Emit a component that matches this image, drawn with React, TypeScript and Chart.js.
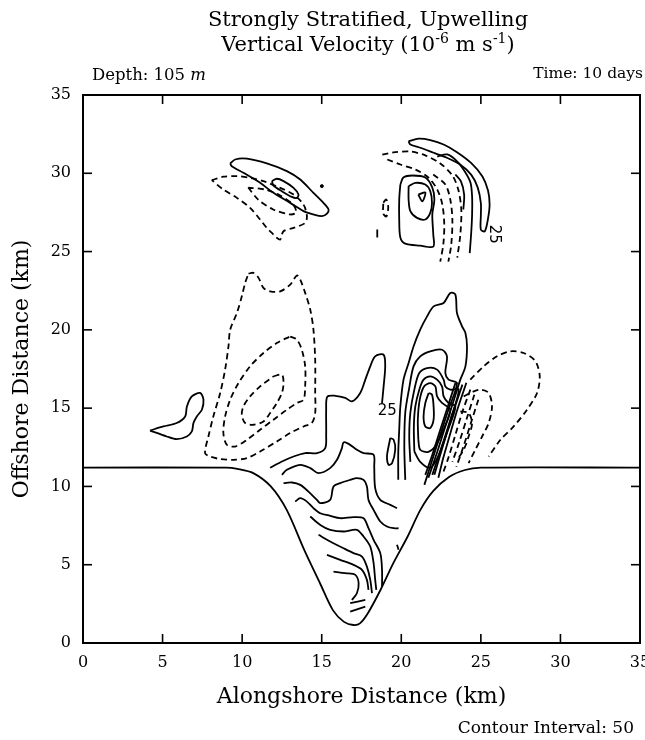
import React, { useEffect, useRef } from 'react';
import { Chart, registerables } from 'chart.js';
Chart.register(...registerables);

type Pt = [number, number];

const xTicks = [0, 5, 10, 15, 20, 25, 30, 35];
const yTicks = [0, 5, 10, 15, 20, 25, 30, 35];

// Shelf / canyon topography line
const shelf: Pt[] = [[0,11.2],[9,11.2],[9.7,11.12],[10.7,10.85],[11.8,10.0],[12.8,8.5],[13.9,5.95],[14.9,3.8],[15.7,2.1],[16.4,1.35],[17.0,1.15],[17.4,1.25],[17.9,1.9],[18.7,3.4],[19.5,5.1],[20.4,6.8],[21.2,8.5],[22.0,9.7],[23.0,10.6],[24.0,11.05],[25.0,11.2],[35,11.2]];

// Top-left feature
const topLeftOuter: Pt[] = [[9.25,30.63],[9.56,30.88],[10.30,30.93],[11.55,30.63],[12.81,30.14],[13.65,29.60],[14.48,28.75],[15.11,28.11],[15.43,27.69],[15.33,27.43],[15.01,27.26],[14.48,27.37],[13.86,27.58],[13.02,28.11],[11.97,28.75],[11.13,29.39],[10.08,30.03],[9.35,30.45],[9.25,30.63]];
const topLeftInner: Pt[] = [[11.87,29.50],[12.18,29.65],[12.60,29.50],[13.23,29.07],[13.54,28.64],[13.44,28.43],[13.12,28.49],[12.50,28.85],[11.97,29.22],[11.87,29.50]];
const topLeftDashOuter: Pt[] = [[8.09,29.56],[8.82,29.78],[9.67,29.82],[10.50,29.71],[11.34,29.50],[12.39,29.07],[13.23,28.64],[13.86,28.00],[14.07,27.26],[13.96,26.83],[13.23,26.51],[12.60,26.30],[12.39,25.77],[12.18,25.88],[11.87,26.19],[11.55,26.51],[11.13,27.05],[10.50,27.79],[9.67,28.43],[8.82,28.96],[8.09,29.56]];
const topLeftDashInner: Pt[] = [[10.38,29.09],[11.01,28.32],[11.95,27.69],[13.02,27.37],[13.39,27.50],[13.21,28.00],[12.39,28.58],[11.45,28.96],[10.38,29.09]];
const dots: Pt[] = [[15.01,29.18]];

// Top-right cluster
const trCrescent: Pt[] = [[20.46,32.05],[21.09,32.21],[21.82,32.12],[22.66,31.84],[23.50,31.35],[24.4,30.65],[25.1,29.8],[25.45,28.9],[25.55,28.0],[25.45,27.1],[25.25,26.3],[25.0,26.4],[25.0,27.3],[25.0,28.1],[24.8,29.1],[24.4,29.9],[23.70,30.56],[22.87,30.99],[22.03,31.31],[21.19,31.63],[20.57,31.84],[20.46,32.05]];
const trBlobOuter: Pt[] = [[19.94,29.28],[20.13,29.73],[20.69,29.86],[21.51,29.73],[21.95,29.09],[22.08,28.32],[21.95,27.37],[22.01,26.09],[22.01,25.32],[21.19,25.38],[20.25,25.51],[19.94,25.90],[19.87,27.05],[19.87,28.32],[19.94,29.28]];
const trBlobInner: Pt[] = [[20.46,29.18],[20.88,29.39],[21.51,29.28],[21.82,28.86],[21.93,28.11],[21.82,27.47],[21.51,27.05],[20.99,27.15],[20.57,27.58],[20.46,28.32],[20.46,29.18]];
const trTriangle: Pt[] = [[21.07,28.64],[21.51,28.77],[21.32,28.20],[21.07,28.64]];
const trInnerArc: Pt[] = [[22.26,31.07],[22.89,31.20],[23.52,30.75],[24.0,30.1],[24.35,29.4],[24.45,28.5],[24.45,27.4],[24.4,26.3],[24.3,24.9]];
const trShortSolid: Pt[] = [[23.40,29.92],[23.75,29.48],[23.95,28.64],[23.9,27.69]];
const trTick: Pt[] = [[18.49,26.41],[18.49,25.90]];
const trDash1: Pt[] = [[18.81,31.20],[19.50,31.33],[20.57,31.39],[21.51,31.14],[22.45,30.63],[23.21,29.86],[23.58,28.96],[23.77,27.69],[23.71,26.09],[23.52,24.62]];
const trDash2: Pt[] = [[19.12,30.88],[19.94,30.56],[20.88,30.24],[21.70,29.73],[22.26,28.96],[22.58,28.00],[22.70,26.73],[22.64,25.45],[22.45,24.36]];
const trDash3: Pt[] = [[22.01,29.92],[22.77,29.28],[23.08,28.32],[23.21,27.05],[23.14,25.45],[22.96,24.36]];
const trDashLoop: Pt[] = [[18.87,28.13],[19.06,28.32],[19.18,27.81],[19.06,27.24],[18.87,27.43],[18.87,28.13]];

// Left negative cell (dashed) and small positive blob
const leftDashOuter: Pt[] = [[10.40,23.59],[10.71,23.64],[11.03,23.32],[11.34,22.68],[11.76,22.46],[12.39,22.46],[13.02,22.89],[13.44,23.47],[13.65,23.21],[13.96,22.36],[14.28,21.29],[14.48,20.01],[14.59,18.09],[14.59,15.97],[14.59,14.69],[14.38,14.05],[13.86,13.83],[13.02,13.41],[12.18,12.87],[11.13,12.23],[10.30,11.81],[9.45,11.70],[8.62,11.75],[7.99,11.91],[7.67,12.13],[7.88,13.19],[8.19,14.47],[8.62,15.97],[8.93,17.46],[9.14,18.94],[9.25,20.01],[9.67,21.08],[9.98,22.14],[10.19,23.00],[10.40,23.59]];
const leftDashMid: Pt[] = [[13.02,19.58],[13.44,19.37],[13.75,18.73],[13.96,17.67],[13.96,16.39],[13.86,15.54],[13.44,15.33],[12.81,14.90],[11.97,14.26],[11.13,13.62],[10.30,12.98],[9.56,12.55],[9.04,12.66],[8.82,13.41],[8.93,14.47],[9.25,15.54],[9.77,16.60],[10.50,17.67],[11.34,18.52],[12.18,19.16],[13.02,19.58]];
const leftDashInner: Pt[] = [[11.97,17.03],[12.50,17.14],[12.60,16.60],[12.50,15.97],[12.18,15.33],[11.76,14.69],[11.34,14.15],[10.71,13.94],[10.19,14.05],[9.98,14.58],[10.08,15.11],[10.50,15.75],[11.13,16.39],[11.97,17.03]];
const leftSolidBlob: Pt[] = [[4.21,13.57],[5.05,13.83],[5.89,14.05],[6.42,14.47],[6.53,15.11],[6.84,15.75],[7.36,15.97],[7.57,15.54],[7.47,14.90],[7.15,14.47],[6.94,14.05],[6.84,13.51],[6.52,13.19],[5.89,13.02],[5.26,13.19],[4.21,13.57]];

// Central positive core
const core1: Pt[] = [[21.72,15.97],[21.93,15.86],[22.03,15.11],[22.03,14.26],[21.82,13.73],[21.51,13.83],[21.40,14.47],[21.51,15.33],[21.72,15.97]];
const core2: Pt[] = [[21.07,12.98],[21.04,14.26],[21.16,15.54],[21.42,16.37],[21.82,16.60],[22.14,16.39],[22.25,15.75],[22.56,15.33],[23.08,14.90],[22.70,13.75],[22.20,12.66],[21.70,12.21],[21.19,12.34],[21.07,12.98]];
const core3: Pt[] = [[20.82,12.23],[20.79,13.81],[20.88,15.09],[21.13,16.18],[21.40,16.82],[21.82,17.03],[22.25,16.82],[22.56,16.39],[22.66,15.75],[22.97,15.33],[23.40,15.11],[22.89,13.49],[22.33,11.96],[21.82,11.19],[21.19,11.57],[20.82,12.23]];
const core4: Pt[] = [[20.57,11.57],[20.50,13.17],[20.57,14.71],[20.82,16.18],[21.13,17.24],[21.62,17.56],[22.25,17.46],[22.66,16.82],[22.77,16.39],[23.08,16.18],[23.61,16.18],[23.08,14.26],[22.52,12.47],[21.95,10.74]];
const core5: Pt[] = [[20.25,10.42],[20.19,12.53],[20.25,14.71],[20.50,16.30],[20.77,17.67],[21.19,18.31],[21.82,18.63],[22.56,18.73],[22.87,18.31],[22.77,17.24],[22.97,16.82],[23.50,16.60],[22.96,14.90],[22.45,13.30],[21.95,11.70],[21.45,10.10]];
const core6: Pt[] = [[19.81,10.42],[19.81,12.15],[19.87,13.62],[19.94,15.09],[20.14,16.82],[20.46,17.88],[20.77,18.94],[21.19,20.01],[21.62,20.86],[22.03,21.50],[22.66,21.72],[23.08,22.36],[23.40,22.25],[23.50,21.08],[23.82,20.22],[24.03,19.80],[24.13,18.94],[24.03,17.67],[23.71,16.82],[23.21,15.22],[22.70,13.62],[22.20,12.02],[21.70,10.55]];
const front1: Pt[] = [[23.40,16.60],[22.96,15.22],[22.45,13.62],[21.95,12.02],[21.51,10.74]];
const front2: Pt[] = [[23.84,16.50],[23.27,14.77],[22.83,13.30],[22.45,12.02],[22.08,10.74]];
const front3: Pt[] = [[24.09,16.62],[23.52,14.90],[23.02,13.17],[22.64,11.83],[22.33,10.55]];
const frontDash1: Pt[] = [[24.34,16.18],[23.84,14.77],[23.40,13.30],[22.96,11.83],[22.58,10.74]];
const frontDash2: Pt[] = [[24.59,15.86],[24.09,14.26],[23.65,12.85],[23.21,11.57]];
const frontDash3: Pt[] = [[24.84,15.54],[24.34,13.94],[23.90,12.53],[23.46,11.25]];

// Right negative cell
const rightDash1: Pt[] = [[24.34,16.82],[25.18,17.67],[26.02,18.31],[26.86,18.63],[27.69,18.52],[28.43,17.99],[28.70,17.03],[28.53,15.97],[27.90,14.90],[27.06,13.83],[26.23,12.98],[25.49,11.91]];
const rightDash2: Pt[] = [[23.92,15.75],[24.55,16.07],[24.97,16.18],[25.49,15.97],[25.70,15.11],[25.49,14.05],[25.08,13.19],[24.65,12.34],[24.23,11.49]];
const rightDash3: Pt[] = [[23.71,14.79],[24.23,14.69],[24.45,14.05],[24.23,13.19],[23.92,12.34],[23.50,11.70]];

// 25 contour and canyon contours
const contour25: Pt[] = [[11.76,11.19],[12.50,11.59],[13.23,11.91],[13.96,12.13],[14.70,12.13],[15.22,12.45],[15.28,13.30],[15.28,14.90],[15.35,15.73],[15.85,15.79],[16.48,15.66],[16.90,15.43],[17.42,15.97],[17.74,16.82],[18.05,17.67],[18.36,18.31],[18.89,18.41],[18.99,17.67],[18.89,16.39],[18.79,15.33]];
const canyon1: Pt[] = [[12.50,10.74],[12.81,11.06],[13.65,11.38],[14.28,11.17],[14.80,10.85],[15.53,11.17],[15.96,11.70],[16.27,12.45],[16.37,12.81],[16.69,12.72],[17.21,12.34],[17.63,12.13],[18.26,12.02],[18.30,11.27],[18.36,9.89],[18.68,9.14],[19.31,8.82],[19.73,8.61]];
const canyon2: Pt[] = [[12.60,10.21],[13.13,10.25],[13.65,10.10],[14.17,9.67],[14.70,9.14],[14.91,8.93],[15.53,9.14],[15.74,9.99],[16.16,10.21],[16.79,10.42],[17.21,10.53],[17.63,10.42],[17.84,9.99],[17.94,9.14],[18.26,8.50],[18.68,7.76],[19.10,7.44],[19.52,7.33],[19.83,7.33]];
const canyon3: Pt[] = [[13.33,9.03],[13.65,9.25],[14.07,9.03],[14.48,8.61],[14.91,8.29],[15.53,8.12],[16.16,7.97],[17.00,8.04],[17.63,7.97],[17.94,7.33],[18.26,6.59],[18.68,5.74],[18.79,4.67],[18.79,3.60]];
const canyon4: Pt[] = [[14.28,8.08],[14.91,7.54],[15.53,7.23],[16.37,7.12],[17.21,7.23],[17.63,6.80],[18.05,6.16],[18.26,5.10],[18.36,4.03],[18.43,3.39]];
const canyon5: Pt[] = [[14.80,6.91],[15.53,6.48],[16.37,6.05],[17.00,5.74],[17.53,5.52],[17.84,4.88],[18.05,4.03],[18.16,3.18]];
const canyon6: Pt[] = [[15.33,5.63],[16.16,5.31],[17.00,4.99],[17.53,4.67],[17.84,4.03],[17.94,3.39]];
const canyon7: Pt[] = [[15.74,4.56],[16.48,4.46],[17.11,4.35],[17.32,3.82],[17.21,3.18],[16.90,2.75]];
const canyon8: Pt[] = [[16.79,2.54],[17.74,2.75]];
const canyon9: Pt[] = [[16.79,2.00],[17.74,2.32]];
const smallLoop: Pt[] = [[19.31,13.09],[19.52,12.98],[19.62,12.34],[19.42,11.49],[19.20,11.38],[19.10,11.91],[19.20,12.55],[19.31,13.09]];
const smallTick: Pt[] = [[19.73,6.27],[19.83,5.95]];

const contourLabels = [
  { x: 19.12, y: 14.83, text: '25', angle: 0 },
  { x: 25.85, y: 26.1, text: '25', angle: 90 },
];

const solidLines: Pt[][] = [shelf, topLeftOuter, topLeftInner, trCrescent, trBlobOuter, trBlobInner, trTriangle, trInnerArc, trShortSolid, trTick, leftSolidBlob, core1, core2, core3, core4, core5, core6, front1, front2, front3, contour25, canyon1, canyon2, canyon3, canyon4, canyon5, canyon6, canyon7, canyon8, canyon9, smallLoop, smallTick];
const dashedLines: Pt[][] = [topLeftDashOuter, topLeftDashInner, trDash1, trDash2, trDash3, trDashLoop, leftDashOuter, leftDashMid, leftDashInner, frontDash1, frontDash2, frontDash3, rightDash1, rightDash2, rightDash3];

const SERIF = '"DejaVu Serif", "Liberation Serif", serif';

const decorPlugin = {
  id: 'decor',
  afterDraw(chart: any) {
    const { ctx, chartArea: a, scales } = chart;
    const xs = scales.x, ys = scales.y;
    ctx.save();
    ctx.strokeStyle = '#000';
    ctx.fillStyle = '#000';
    ctx.lineWidth = 2;
    ctx.strokeRect(a.left, a.top, a.right - a.left, a.bottom - a.top);
    ctx.lineWidth = 1.6;
    const seg = (x1: number, y1: number, x2: number, y2: number) => {
      ctx.beginPath(); ctx.moveTo(x1, y1); ctx.lineTo(x2, y2); ctx.stroke();
    };
    for (const v of xTicks) {
      const px = xs.getPixelForValue(v);
      seg(px, a.bottom, px, a.bottom - 9);
      seg(px, a.top, px, a.top + 9);
    }
    for (const v of yTicks) {
      const py = ys.getPixelForValue(v);
      seg(a.left, py, a.left + 9, py);
      seg(a.right, py, a.right - 9, py);
    }
    // contour labels
    ctx.font = '15px "DejaVu Sans", sans-serif';
    ctx.textAlign = 'center';
    ctx.textBaseline = 'middle';
    for (const l of contourLabels) {
      const px = xs.getPixelForValue(l.x), py = ys.getPixelForValue(l.y);
      ctx.save();
      ctx.translate(px, py);
      ctx.rotate((l.angle * Math.PI) / 180);
      ctx.fillText(l.text, 0, 0);
      ctx.restore();
    }
    // header
    ctx.textBaseline = 'alphabetic';
    ctx.textAlign = 'left';
    const drawParts = (parts: { t: string; sup?: boolean; it?: boolean }[], x: number, base: number, size: number, align: string) => {
      const fontOf = (p: any) => `${p.it ? 'italic ' : ''}${p.sup ? Math.round(size * 0.68) : size}px ${SERIF}`;
      const widths = parts.map((p) => { ctx.font = fontOf(p); return ctx.measureText(p.t).width; });
      const total = widths.reduce((s, w) => s + w, 0);
      let cx = align === 'center' ? x - total / 2 : align === 'right' ? x - total : x;
      parts.forEach((p, i) => {
        ctx.font = fontOf(p);
        ctx.fillText(p.t, cx, p.sup ? base - size * 0.38 : base);
        cx += widths[i];
      });
    };
    drawParts([{ t: 'Strongly Stratified, Upwelling' }], 368, 26, 21, 'center');
    drawParts([{ t: 'Vertical Velocity (10' }, { t: '-6', sup: true }, { t: ' m s' }, { t: '-1', sup: true }, { t: ')' }], 368, 51, 21, 'center');
    drawParts([{ t: 'Depth: 105 ' }, { t: 'm', it: true }], 92, 80, 16.5, 'left');
    drawParts([{ t: 'Time: 10 days' }], 643, 78, 15.5, 'right');
    drawParts([{ t: 'Contour Interval: 50' }], 634, 733, 17, 'right');
    ctx.restore();
  },
};

export default function App() {
  const ref = useRef<HTMLCanvasElement>(null);
  useEffect(() => {
    document.body.style.margin = '0';
    const canvas = ref.current;
    if (!canvas) return;
    const toXY = (pts: Pt[]) => pts.map(([x, y]) => ({ x, y }));
    const datasets: any[] = [
      ...solidLines.map((pts) => ({
        data: toXY(pts), borderColor: '#000', borderWidth: 1.8, pointRadius: 0, tension: 0.3, fill: false,
      })),
      ...dashedLines.map((pts) => ({
        data: toXY(pts), borderColor: '#000', borderWidth: 1.8, borderDash: [6, 4], pointRadius: 0, tension: 0.3, fill: false,
      })),
      { data: toXY(dots), showLine: false, pointRadius: 1.5, backgroundColor: '#000', borderColor: '#000' },
    ];
    const chart = new Chart(canvas, {
      type: 'line',
      data: { datasets },
      options: {
        animation: false,
        responsive: false,
        devicePixelRatio: 1,
        layout: { padding: { top: 95, right: 5, bottom: 20, left: 0 }, autoPadding: false },
        plugins: { legend: { display: false }, tooltip: { enabled: false }, title: { display: false } },
        scales: {
          x: {
            type: 'linear', min: 0, max: 35,
            afterFit: (s: any) => { s.height = 77; s.paddingLeft = 0; s.paddingRight = 0; },
            ticks: { stepSize: 5, autoSkip: false, maxRotation: 0, padding: 10, color: '#000', font: { family: SERIF, size: 16 } },
            grid: { display: false, drawTicks: false },
            border: { display: false },
            title: { display: true, text: 'Alongshore Distance (km)', color: '#000', font: { family: SERIF, size: 22 }, padding: { top: 0, bottom: 10 } },
          },
          y: {
            type: 'linear', min: 0, max: 35,
            afterFit: (s: any) => { s.width = 83; s.paddingTop = 0; s.paddingBottom = 0; },
            ticks: { stepSize: 5, padding: 12, color: '#000', font: { family: SERIF, size: 16 } },
            grid: { display: false, drawTicks: false },
            border: { display: false },
            title: { display: true, text: 'Offshore Distance (km)', color: '#000', font: { family: SERIF, size: 22 }, padding: { top: 9, bottom: 0 } },
          },
        },
      },
      plugins: [decorPlugin],
    } as any);
    return () => chart.destroy();
  }, []);
  return <canvas ref={ref} width={645} height={740} style={{ display: 'block' }} />;
}
